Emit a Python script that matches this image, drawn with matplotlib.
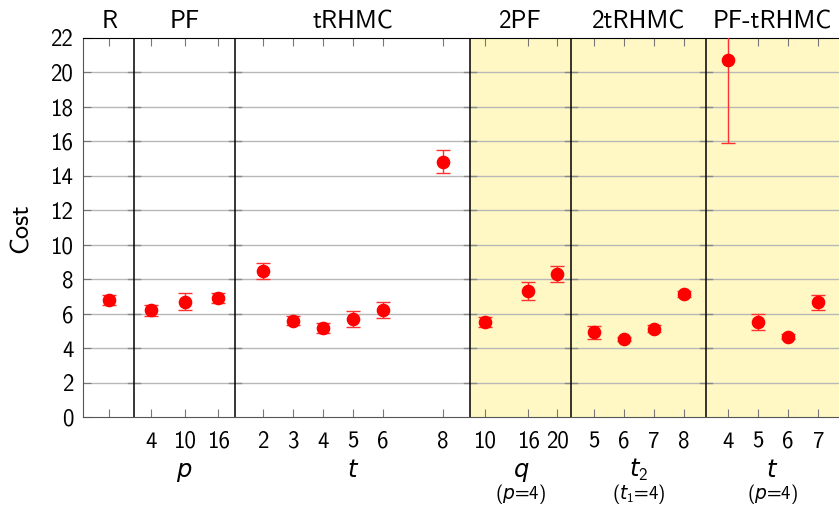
import matplotlib
matplotlib.use("Agg")
import matplotlib.pyplot as plt
import numpy as np

plt.rcParams['font.family'] = ['cmss10', 'DejaVu Sans']
plt.rcParams['mathtext.fontset'] = 'custom'
plt.rcParams['mathtext.rm'] = 'cmss10'
plt.rcParams['mathtext.it'] = 'DejaVu Sans:italic'
plt.rcParams['axes.unicode_minus'] = False

# ---- data ----
r_cost = [6.8]
r_err = [0.3]

pf_p = [4, 10, 16]
pf_cost = [6.2, 6.7, 6.9]
pf_err = [0.32, 0.5, 0.3]

trhmc_t = [2, 3, 4, 5, 6, 8]
trhmc_cost = [8.47, 5.59, 5.17, 5.67, 6.19, 14.82]
trhmc_err = [0.45, 0.26, 0.3, 0.47, 0.46, 0.66]

pf2_q = [10, 16, 20]
pf2_cost = [5.53, 7.33, 8.28]
pf2_err = [0.28, 0.53, 0.47]

t2rhmc_t2 = [5, 6, 7, 8]
t2rhmc_cost = [4.91, 4.53, 5.13, 7.14]
t2rhmc_err = [0.36, 0.12, 0.2, 0.2]

pftrhmc_t = [4, 5, 6, 7]
pftrhmc_cost = [20.72, 5.51, 4.66, 6.67]
pftrhmc_err = [4.8, 0.45, 0.15, 0.43]

group_titles = ["R", "PF", "tRHMC", "2PF", "2tRHMC", "PF-tRHMC"]
group_xlabels = ["", "$p$", "$t$", "$q$", "$t_2$", "$t$"]
group_notes = ["", "", "", "($p$=4)", "($t_1$=4)", "($p$=4)"]

# ---- layout (axis units) ----
X0, X1 = 83, 839
bounds = [83, 134, 235.3, 470.3, 571.3, 705.7, 839]


def xmap(vals, origin, v0, scale):
    return [origin + (v - v0) * scale for v in vals]


groups = [
    ([109.3], [""], r_cost, r_err),
    (xmap(pf_p, 151.3, 4, 5.58), pf_p, pf_cost, pf_err),
    (xmap(trhmc_t, 262.5, 2, 30.1), trhmc_t, trhmc_cost, trhmc_err),
    (xmap(pf2_q, 484.7, 10, 7.23), pf2_q, pf2_cost, pf2_err),
    (xmap(t2rhmc_t2, 593.5, 5, 30.1), t2rhmc_t2, t2rhmc_cost, t2rhmc_err),
    (xmap(pftrhmc_t, 728.0, 4, 30.1), pftrhmc_t, pftrhmc_cost, pftrhmc_err),
]

W, H = 839, 508
fig = plt.figure(figsize=(W / 100, H / 100), dpi=100)
ax = fig.add_axes([83 / W, (H - 417) / H, (839 - 83) / W, (417 - 38) / H])
ax.set_xlim(X0, X1)
ax.set_ylim(0, 22)

# shaded region
ax.axvspan(bounds[3], X1, color='#fff8c4', zorder=0, lw=0)

# grid
yt = np.arange(0, 23, 2)
for y in yt[1:-1]:
    ax.axhline(y, color='#b8b8b8', lw=1.0, zorder=1)
# y ticks at dividers
for b in bounds[1:-1]:
    for y in yt[1:-1]:
        ax.plot([b - 6, b + 6], [y, y], color='#888888', lw=1.0, zorder=1.5)
for b in bounds[1:-1]:
    ax.axvline(b, color='black', lw=1.1, zorder=2)

ticks, labels = [], []
for xs, labs, cost, err in groups:
    ax.errorbar(xs, cost, yerr=err, fmt='o', color='red', ecolor='#ff3030',
                ms=8.8, capsize=5, elinewidth=1.0, capthick=1.0, zorder=4,
                clip_on=True)
    ticks += xs
    labels += [str(l) for l in labs]

ax.set_xticks(ticks)
ax.set_xticklabels(labels)
ax.set_yticks(yt)
ax.tick_params(axis='both', direction='in', length=6, color='#777777',
               labelsize=16.5, top=True, pad=7)
ax.tick_params(axis='x', pad=10)
for s in ['left', 'bottom']:
    ax.spines[s].set_color('#555555')
ax.spines['top'].set_color('black')
ax.spines['right'].set_visible(False)

fig.text(21 / W, (H - 228) / H, "Cost", fontsize=19, rotation=90,
         ha='center', va='center')

for i, t in enumerate(group_titles):
    if i == 0:
        cx = 109.3
    else:
        cx = (bounds[i] + bounds[i + 1]) / 2
    ax.text(cx, 1.012, t, transform=ax.get_xaxis_transform(), ha='center',
            va='bottom', fontsize=18)


def ypix(py):
    return (H - py) / H


for i in range(len(group_titles)):
    cx = (bounds[i] + bounds[i + 1]) / 2
    fx = cx / W
    if group_xlabels[i]:
        fig.text(fx, ypix(477), group_xlabels[i], fontsize=17.5, ha='center',
                 va='baseline')
    if group_notes[i]:
        fig.text(fx, ypix(499.5), group_notes[i], fontsize=13.5, ha='center',
                 va='baseline')

fig.savefig("out.png", dpi=100)
